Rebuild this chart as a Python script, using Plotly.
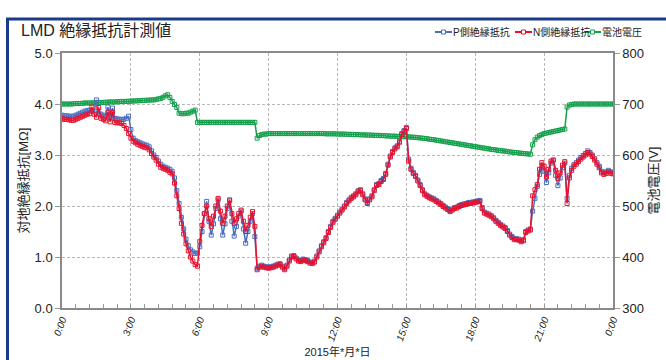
import plotly.graph_objects as go

# time of day in hours (sampled every 6 minutes)
hours = [round(i * 0.1, 1) for i in range(241)]
tick_hours = [0, 3, 6, 9, 12, 15, 18, 21, 24]
tick_labels = ["0:00", "3:00", "6:00", "9:00", "12:00", "15:00", "18:00", "21:00", "0:00"]

# P側絶縁抵抗 [MΩ]
p_side = [
    3.78, 3.77, 3.77, 3.76, 3.76, 3.76, 3.78, 3.80, 3.82, 3.84,
    3.86, 3.87, 3.88, 3.86, 3.86, 4.08, 3.82, 3.80, 3.78, 3.76,
    3.94, 3.74, 3.92, 3.72, 3.71, 3.70, 3.70, 3.70, 3.72, 3.76,
    3.50, 3.33, 3.28, 3.26, 3.24, 3.22, 3.20, 3.19, 3.16, 3.08,
    3.00, 2.95, 2.88, 2.82, 2.78, 2.76, 2.74, 2.72, 2.68, 2.55,
    2.30, 2.05, 1.78, 1.55, 1.35, 1.22, 1.14, 1.10, 1.07, 1.08,
    1.20, 1.50, 1.85, 2.09, 1.70, 1.43, 1.65, 1.95, 2.12, 1.75,
    1.43, 1.65, 1.95, 2.10, 1.70, 1.41, 1.60, 1.80, 1.90, 1.55,
    1.27, 1.50, 1.70, 1.85, 1.40, 0.78, 0.82, 0.84, 0.82, 0.81,
    0.80, 0.81, 0.82, 0.84, 0.86, 0.87, 0.82, 0.77, 0.84, 0.94,
    1.02, 1.03, 0.98, 0.94, 0.93, 0.96, 0.95, 0.93, 0.90, 0.89,
    0.92, 1.02, 1.12, 1.22, 1.30, 1.38, 1.50, 1.60, 1.70, 1.76,
    1.82, 1.88, 1.94, 2.00, 2.07, 2.12, 2.17, 2.20, 2.24, 2.30,
    2.32, 2.24, 2.14, 2.07, 2.14, 2.20, 2.32, 2.42, 2.44, 2.50,
    2.54, 2.64, 2.82, 2.98, 3.07, 3.14, 3.18, 3.27, 3.42, 3.48,
    3.54, 2.92, 2.74, 2.66, 2.60, 2.51, 2.42, 2.32, 2.24, 2.21,
    2.18, 2.16, 2.14, 2.11, 2.08, 2.05, 2.01, 1.98, 1.95, 1.91,
    1.94, 1.97, 1.98, 2.01, 2.03, 2.04, 2.05, 2.07, 2.07, 2.08,
    2.09, 2.10, 2.11, 1.97, 1.88, 1.86, 1.84, 1.81, 1.77, 1.72,
    1.68, 1.64, 1.61, 1.58, 1.52, 1.45, 1.40, 1.36, 1.36, 1.35,
    1.32, 1.34, 1.50, 1.53, 1.55, 1.90, 2.15, 2.38, 2.62, 2.80,
    2.68, 2.46, 2.65, 2.84, 2.90, 2.60, 2.40, 2.55, 2.75, 2.84,
    2.15, 2.60, 2.74, 2.81, 2.85, 2.90, 2.95, 2.99, 3.03, 3.08,
    3.05, 3.00, 2.93, 2.85, 2.78, 2.68, 2.65, 2.67, 2.70, 2.67,
    2.66,
]

# N側絶縁抵抗 [MΩ]
n_side = [
    3.71, 3.70, 3.70, 3.69, 3.68, 3.68, 3.70, 3.72, 3.74, 3.76,
    3.78, 3.80, 3.81, 3.94, 3.80, 3.74, 3.93, 3.72, 3.70, 3.67,
    3.84, 3.65, 3.84, 3.64, 3.63, 3.63, 3.62, 3.58, 3.52, 3.42,
    3.33, 3.27, 3.24, 3.21, 3.19, 3.17, 3.15, 3.14, 3.10, 3.03,
    2.96, 2.90, 2.82, 2.76, 2.74, 2.72, 2.70, 2.66, 2.63, 2.45,
    2.20, 1.95, 1.66, 1.45, 1.26, 1.12, 1.00, 0.92, 0.85, 0.82,
    1.30, 1.62, 1.85, 2.00, 1.75, 1.60, 1.80, 2.00, 2.15, 1.90,
    1.66, 1.80, 2.00, 2.12, 1.85, 1.66, 1.75, 1.85, 1.92, 1.70,
    1.50, 1.62, 1.78, 1.89, 1.60, 0.75, 0.80, 0.82, 0.80, 0.79,
    0.78, 0.79, 0.80, 0.82, 0.84, 0.85, 0.80, 0.75, 0.82, 0.92,
    1.00, 1.01, 0.96, 0.92, 0.91, 0.94, 0.93, 0.91, 0.88, 0.87,
    0.90, 1.00, 1.10, 1.20, 1.28, 1.36, 1.48, 1.58, 1.68, 1.74,
    1.80, 1.86, 1.92, 1.98, 2.05, 2.10, 2.15, 2.18, 2.22, 2.28,
    2.30, 2.22, 2.12, 2.05, 2.12, 2.18, 2.30, 2.40, 2.42, 2.48,
    2.52, 2.62, 2.80, 2.96, 3.05, 3.12, 3.16, 3.25, 3.40, 3.46,
    3.52, 2.88, 2.72, 2.64, 2.58, 2.49, 2.40, 2.30, 2.22, 2.19,
    2.16, 2.14, 2.12, 2.09, 2.06, 2.03, 1.99, 1.96, 1.93, 1.89,
    1.92, 1.95, 1.96, 1.99, 2.01, 2.02, 2.03, 2.05, 2.05, 2.06,
    2.07, 2.08, 2.09, 1.95, 1.86, 1.84, 1.82, 1.79, 1.75, 1.70,
    1.66, 1.62, 1.59, 1.56, 1.50, 1.43, 1.38, 1.34, 1.34, 1.33,
    1.30, 1.32, 1.48, 1.51, 1.53, 2.20, 2.32, 2.42, 2.72, 2.85,
    2.78, 2.57, 2.72, 2.88, 2.90, 2.70, 2.54, 2.65, 2.80, 2.87,
    2.05, 2.55, 2.70, 2.78, 2.82, 2.87, 2.92, 2.96, 3.00, 3.05,
    3.02, 2.97, 2.90, 2.82, 2.75, 2.65, 2.62, 2.64, 2.67, 2.64,
    2.63,
]

# 電池電圧 [V]
voltage = [
    700, 700, 700, 700, 700, 700.5, 701, 701, 701, 701.5,
    702, 702, 702, 702, 702.5, 702.5, 703, 703, 703, 703.5,
    703.5, 704, 704, 704, 704.5, 704.5, 705, 705, 705, 705.5,
    705.5, 706, 706, 706.5, 706.5, 707, 707, 707.5, 707.5, 708,
    708, 709, 710, 711, 713, 716, 718, 713, 705, 699,
    693, 682, 681, 681, 682, 682, 684, 686, 688, 664,
    664, 664, 664, 664, 664, 664, 664, 664, 664, 664,
    664, 664, 664, 664, 664, 664, 664, 664, 664, 664,
    664, 664, 664, 664, 664, 633, 638, 640, 641, 641,
    642, 642, 642, 642, 642, 642, 642, 642, 642, 642,
    642, 642, 642, 642, 642, 642, 642, 642, 642, 642,
    642, 642, 642, 642, 642, 641.5, 641.5, 641.5, 641.5, 641.5,
    641, 641, 641, 641, 640.5, 640.5, 640.5, 640, 640, 640,
    639.5, 639.5, 639.5, 639, 639, 639, 638.5, 638.5, 638.5, 638,
    638, 637.5, 637.5, 637, 637, 637, 636.5, 636.5, 636, 636,
    636, 635.5, 635, 635, 634.5, 634, 633.5, 633, 632.5, 632,
    631, 630.5, 630, 629, 628.5, 627.5, 627, 626, 625.5, 624.5,
    624, 623, 622.5, 621.5, 621, 620, 619.5, 618.5, 618, 617,
    616.5, 615.5, 615, 614, 613.5, 612.5, 612, 611, 610.5, 610,
    609, 608.5, 608, 607.5, 607, 606, 605.5, 605, 604.5, 604,
    603.5, 603, 602.5, 602, 601.5, 620, 630, 635, 638, 640,
    642, 643, 644, 645, 646, 647, 648, 649, 650, 651,
    694, 698, 699, 700, 700, 700, 700, 700, 700, 700,
    700, 700, 700, 700, 700, 700, 700, 700, 700, 700,
    700,
]

series_names = ["P側絶縁抵抗", "N側絶縁抵抗", "電池電圧"]

BLUE = "#4a6fbf"
RED = "#e8112d"
GREEN = "#14a04c"
COLORS = [BLUE, RED, GREEN]
FONT = "Liberation Sans, Noto Sans CJK JP, sans-serif"

W, H = 666, 360
L, R, T, B = 62, 53, 53, 52
PW, PH = W - L - R, H - T - B


def px(x):
    return (x - L) / PW


def py(y):
    return (H - B - y) / PH


fig = go.Figure()


def add(y, name, color, axis):
    fig.add_trace(go.Scatter(
        x=hours, y=y, name=name, yaxis=axis, mode="lines+markers",
        line=dict(color=color, width=1.5), showlegend=False,
        marker=dict(symbol="square-open", size=4, color=color, line=dict(width=1, color=color)),
    ))


add(p_side, series_names[0], BLUE, "y2")
add(n_side, series_names[1], RED, "y2")
add(voltage, series_names[2], GREEN, "y")

# compact legend (line sample with a small marker, then the name)
legend_line_x = [435, 515, 584]
legend_y = 32
shapes = []
annotations = []
for lx, name, col in zip(legend_line_x, series_names, COLORS):
    shapes.append(dict(type="line", xref="paper", yref="paper",
                       x0=px(lx), x1=px(lx + 17), y0=py(legend_y), y1=py(legend_y),
                       line=dict(color=col, width=2)))
    shapes.append(dict(type="rect", xref="paper", yref="paper",
                       x0=px(lx + 6.5), x1=px(lx + 10.5), y0=py(legend_y + 2), y1=py(legend_y - 2),
                       line=dict(color=col, width=1), fillcolor="white"))
    annotations.append(dict(text=name, xref="paper", yref="paper", x=px(lx + 16), y=py(legend_y),
                            xanchor="left", yanchor="middle", showarrow=False,
                            font=dict(size=10, color="#222", family=FONT)))

# chart frame
shapes.append(dict(type="rect", xref="paper", yref="paper",
                   x0=px(7.5), x1=px(760), y0=py(460), y1=py(19),
                   line=dict(color="#1c3a8c", width=3), fillcolor="rgba(0,0,0,0)", layer="above"))

grid = dict(showgrid=True, gridcolor="#b8b8b8", gridwidth=1, griddash="3px,2px")

fig.update_layout(
    width=W, height=H,
    margin=dict(l=L, r=R, t=T, b=B, pad=0, autoexpand=False),
    paper_bgcolor="white", plot_bgcolor="white",
    font=dict(family=FONT, color="#222", size=12),
    showlegend=False,
    title=dict(text="LMD 絶縁抵抗計測値", x=21 / W, xref="container", xanchor="left",
               y=1 - 30 / H, yref="container", yanchor="middle", automargin=False,
               font=dict(size=16, color="#222", family=FONT)),
    xaxis=dict(range=[0, 24], tickmode="array", tickvals=tick_hours, ticktext=tick_labels,
               tickangle=-70, tickfont=dict(size=10, style="italic", color="#222"),
               ticks="inside", ticklen=4, tickcolor="#999", automargin=False,
               minor=dict(tick0=0, dtick=0.6, ticks="inside", ticklen=4, tickcolor="#999", showgrid=False),
               showline=True, linecolor="#8a8a8a", linewidth=1.5, mirror=True,
               title=dict(text="2015年*月*日", font=dict(size=11), standoff=6),
               zeroline=False, **grid),
    yaxis=dict(range=[300, 800], dtick=100, side="right", tickformat="d",
               tickfont=dict(size=13, color="#222"), automargin=False,
               ticks="outside", ticklen=5, tickcolor="#999",
               showline=True, linecolor="#8a8a8a", linewidth=1.5,
               title=dict(text="電池電圧[V]", font=dict(size=13), standoff=6),
               zeroline=False, **grid),
    yaxis2=dict(range=[0, 5], dtick=1, tickformat=".1f", side="left", overlaying="y",
                tickfont=dict(size=13, color="#222"), automargin=False,
                ticks="outside", ticklen=5, tickcolor="#999",
                showline=True, linecolor="#8a8a8a", linewidth=1.5,
                title=dict(text="対地絶縁抵抗[MΩ]", font=dict(size=13), standoff=3),
                showgrid=False, zeroline=False),
    shapes=shapes,
    annotations=annotations,
)

fig.write_html("out.html", config={"displayModeBar": False},
               post_script="document.body.style.margin='0';document.body.style.overflow='hidden';")
